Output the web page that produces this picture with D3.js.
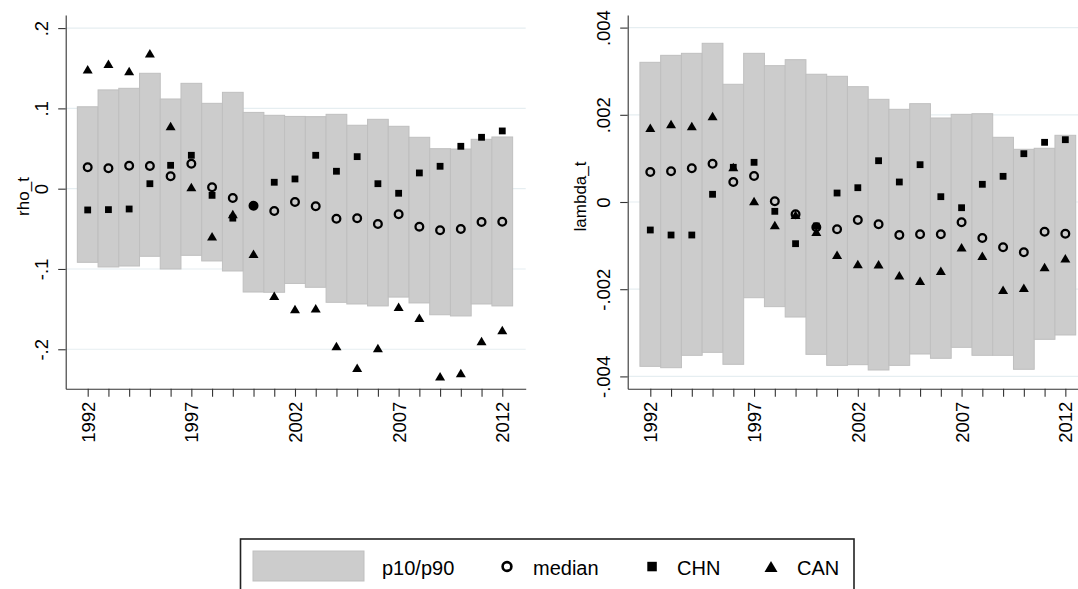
<!DOCTYPE html>
<html>
<head>
<meta charset="utf-8">
<script src="https://cdn.jsdelivr.net/npm/d3@7"></script>
<style>
  body { margin: 0; background: #ffffff; }
  text { font-family: "Liberation Sans", Arial, sans-serif; fill: #000; }
</style>
</head>
<body>
<div class="chart"></div>
<script>
// years on the x axis
var years = [1992, 1993, 1994, 1995, 1996, 1997, 1998, 1999, 2000, 2001, 2002,
  2003, 2004, 2005, 2006, 2007, 2008, 2009, 2010, 2011, 2012];
var yearTicks = [1992, 1997, 2002, 2007, 2012];

// rho_t panel
var rhoP90 = [0.102, 0.123, 0.125, 0.1437, 0.1117, 0.1312, 0.1063, 0.120, 0.095, 0.0914, 0.090,
  0.0897, 0.0926, 0.079, 0.0864, 0.0777, 0.064, 0.0498, 0.0494, 0.0615, 0.0644];
var rhoP10 = [-0.0917, -0.0975, -0.0963, -0.0842, -0.100, -0.083, -0.090, -0.1025, -0.1287, -0.129, -0.118,
  -0.1228, -0.1415, -0.1436, -0.146, -0.135, -0.1423, -0.157, -0.1585, -0.1436, -0.146];
var rhoMedian = [0.0266, 0.0254, 0.0286, 0.0283, 0.0154, 0.0311, 0.0017, -0.0116, -0.0212, -0.0278, -0.0166,
  -0.0219, -0.0374, -0.0369, -0.044, -0.0319, -0.0473, -0.0518, -0.0502, -0.0415, -0.0411];
var rhoCHN = [-0.0265, -0.0261, -0.0253, 0.0062, 0.0291, 0.0416, -0.0083, -0.0367, -0.0212, 0.008, 0.0121,
  0.0416, 0.0217, 0.0399, 0.0062, -0.0057, 0.0196, 0.0279, 0.0528, 0.064, 0.0719];
var rhoCAN = [0.1487, 0.1557, 0.1466, 0.1686, 0.078, 0.002, -0.0593, -0.0315, -0.081, -0.1332, -0.1498,
  -0.149, -0.1959, -0.2229, -0.1984, -0.147, -0.1606, -0.2336, -0.2295, -0.1897, -0.176];
var rhoTicks = [0.2, 0.1, 0, -0.1, -0.2];
var rhoTickLabels = [".2", ".1", "0", "-.1", "-.2"];

// lambda_t panel
var lamP90 = [0.003204, 0.003364, 0.00341, 0.00364, 0.0027, 0.00341, 0.003127, 0.003264, 0.00293, 0.002883, 0.002645,
  0.002355, 0.002126, 0.002255, 0.001927, 0.002011, 0.002025, 0.001484, 0.001209, 0.001232, 0.00153];
var lamP10 = [-0.003769, -0.0038, -0.003516, -0.003448, -0.003723, -0.002195, -0.0024, -0.002638, -0.003494, -0.003747, -0.003731,
  -0.003853, -0.003747, -0.003486, -0.003585, -0.003333, -0.003516, -0.003516, -0.003837, -0.00315, -0.00305];
var lamMedian = [0.000688, 0.000704, 0.000773, 0.000878, 0.000459, 0.000596, 0.000016, -0.000282, -0.00058, -0.000626, -0.000413,
  -0.000511, -0.000757, -0.000741, -0.000741, -0.000466, -0.000826, -0.001039, -0.001154, -0.000681, -0.000727];
var lamCHN = [-0.000642, -0.000757, -0.000757, 0.000177, 0.000796, 0.00091, -0.000214, -0.000956, -0.00055, 0.000206, 0.000328,
  0.000947, 0.000459, 0.000856, 0.000122, -0.000131, 0.000406, 0.000589, 0.001108, 0.001369, 0.001429];
var lamCAN = [0.001704, 0.001789, 0.001743, 0.001972, 0.0008, 0.000023, -0.000528, -0.00029, -0.00068, -0.001209, -0.001422,
  -0.001429, -0.001682, -0.001805, -0.001576, -0.001039, -0.001232, -0.002011, -0.001966, -0.001491, -0.001291];
var lamTicks = [0.004, 0.002, 0, -0.002, -0.004];
var lamTickLabels = [".004", ".002", "0", "-.002", "-.004"];

var legendLabels = ["p10/p90", "median", "CHN", "CAN"];

var width = 1078;
var height = 589;

var svg = d3
  .select(".chart")
  .append("svg")
  .attr("width", width)
  .attr("height", height);

function triangle(w, h) {
  return "M0," + (-h / 2) + "L" + (w / 2) + "," + (h / 2) + "L" + (-w / 2) + "," + (h / 2) + "Z";
}

function drawPanel(p) {
  var g = svg.append("g");

  var x = d3.scaleLinear().domain(p.xDomain).range([p.left, p.right]);
  var y = d3.scaleLinear().domain(p.yDomain).range([p.bottom, p.top]);

  // gridlines
  g.append("g")
    .selectAll("line")
    .data(p.ticks)
    .enter()
    .append("line")
    .attr("x1", p.left)
    .attr("x2", p.right)
    .attr("y1", function (d) { return y(d); })
    .attr("y2", function (d) { return y(d); })
    .style("stroke", "#e6eef1")
    .style("stroke-width", 1.2);

  // p10/p90 bars
  g.append("g")
    .selectAll("rect")
    .data(years)
    .enter()
    .append("rect")
    .attr("x", function (d) { return x(d - 0.5); })
    .attr("width", function (d) { return x(d + 0.5) - x(d - 0.5); })
    .attr("y", function (d, i) { return y(p.p90[i]); })
    .attr("height", function (d, i) { return y(p.p10[i]) - y(p.p90[i]); })
    .style("fill", "#cccccc")
    .style("stroke", "#bfbfbf")
    .style("stroke-width", 1);

  // CAN triangles
  g.append("g")
    .selectAll("path")
    .data(years)
    .enter()
    .append("path")
    .attr("d", triangle(10, 8.5))
    .attr("transform", function (d, i) {
      return "translate(" + x(d) + "," + y(p.can[i]) + ")";
    })
    .style("fill", "#000");

  // CHN squares
  g.append("g")
    .selectAll("rect")
    .data(years)
    .enter()
    .append("rect")
    .attr("x", function (d) { return x(d) - 3.4; })
    .attr("y", function (d, i) { return y(p.chn[i]) - 3.4; })
    .attr("width", 6.8)
    .attr("height", 6.8)
    .style("fill", "#000");

  // median hollow circles
  g.append("g")
    .selectAll("circle")
    .data(years)
    .enter()
    .append("circle")
    .attr("cx", function (d) { return x(d); })
    .attr("cy", function (d, i) { return y(p.median[i]); })
    .attr("r", 3.85)
    .style("fill", "none")
    .style("stroke", "#000")
    .style("stroke-width", 2.3);

  // y axis
  var yAxis = g.append("g")
    .attr("transform", "translate(" + p.left + ",0)")
    .call(
      d3.axisLeft(y)
        .tickValues(p.ticks)
        .tickSize(7.5)
        .tickSizeOuter(0)
        .tickFormat(function (d, i) { return p.tickLabels[i]; })
    );
  yAxis.selectAll("text")
    .attr("x", 0)
    .attr("dy", 0)
    .attr("text-anchor", "middle")
    .attr("transform", "translate(-18,0) rotate(-90)")
    .style("font-size", "18.5px");

  // x axis
  var xAxis = g.append("g")
    .attr("transform", "translate(0," + p.bottom + ")")
    .call(
      d3.axisBottom(x)
        .tickValues(years)
        .tickSize(8)
        .tickSizeOuter(0)
        .tickFormat(function (d) { return yearTicks.indexOf(d) >= 0 ? d : ""; })
    );
  xAxis.selectAll("text")
    .attr("y", 0)
    .attr("dy", "0.35em")
    .attr("text-anchor", "end")
    .attr("transform", "translate(0,13) rotate(-90)")
    .style("font-size", "18.5px");

  g.selectAll(".domain, .tick line")
    .style("stroke", "#333")
    .style("stroke-width", 1.1);
  g.selectAll(".tick text").style("fill", "#000").style("font-family", '"Liberation Sans", Arial, sans-serif');

  // axis title
  g.append("text")
    .attr("transform", "translate(" + p.titleX + ",196.5) rotate(-90)")
    .attr("text-anchor", "middle")
    .style("font-size", "17px")
    .text(p.title);
}

function drawLegend() {
  var lg = svg.append("g");

  lg.append("rect")
    .attr("x", 240.5)
    .attr("y", 539)
    .attr("width", 613.5)
    .attr("height", 60)
    .style("fill", "#fff")
    .style("stroke", "#222")
    .style("stroke-width", 1.6);

  lg.append("rect")
    .attr("x", 253)
    .attr("y", 551)
    .attr("width", 111)
    .attr("height", 30)
    .style("fill", "#cccccc")
    .style("stroke", "#bfbfbf");

  lg.append("circle")
    .attr("cx", 507)
    .attr("cy", 566.5)
    .attr("r", 4.4)
    .style("fill", "none")
    .style("stroke", "#000")
    .style("stroke-width", 2.6);

  lg.append("rect")
    .attr("x", 647.3)
    .attr("y", 561.8)
    .attr("width", 9.5)
    .attr("height", 9.5)
    .style("fill", "#000");

  lg.append("path")
    .attr("d", triangle(13, 11))
    .attr("transform", "translate(771,566.5)")
    .style("fill", "#000");

  var textX = [382, 533, 677, 797];
  lg.selectAll(".legend-text")
    .data(legendLabels)
    .enter()
    .append("text")
    .attr("class", "legend-text")
    .attr("x", function (d, i) { return textX[i]; })
    .attr("y", 574.5)
    .style("font-size", "20px")
    .text(function (d) { return d; });
}

drawPanel({
  left: 65.7, right: 525.7, top: 15, bottom: 388.7,
  xDomain: [1990.939, 2013.13], yDomain: [-0.2491, 0.2163],
  p10: rhoP10, p90: rhoP90, median: rhoMedian, chn: rhoCHN, can: rhoCAN,
  ticks: rhoTicks, tickLabels: rhoTickLabels,
  title: "rho_t", titleX: 28.5
});

drawPanel({
  left: 627.7, right: 1078, top: 15, bottom: 388.7,
  xDomain: [1990.911, 2012.61], yDomain: [-0.004282, 0.004289],
  p10: lamP10, p90: lamP90, median: lamMedian, chn: lamCHN, can: lamCAN,
  ticks: lamTicks, tickLabels: lamTickLabels,
  title: "lambda_t", titleX: 586
});

drawLegend();
</script>
</body>
</html>
